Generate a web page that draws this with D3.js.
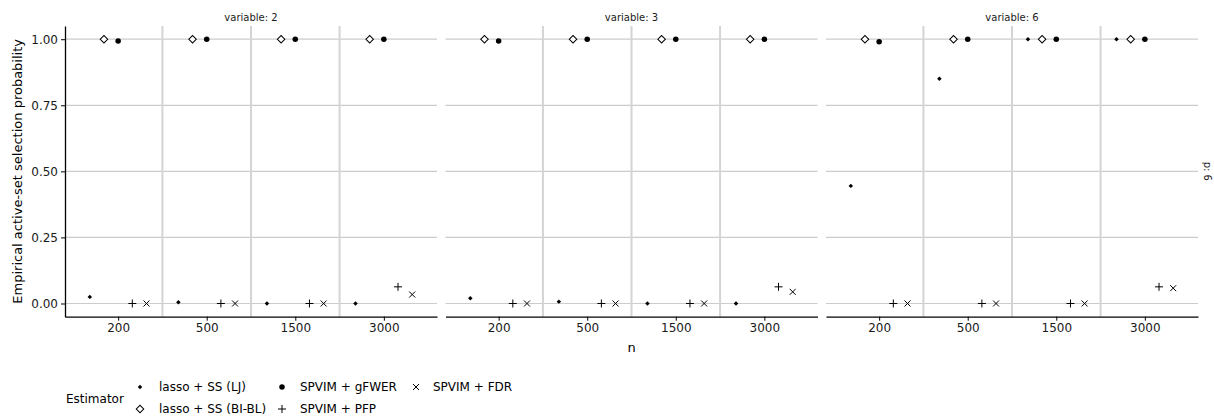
<!DOCTYPE html>
<html>
<head>
<meta charset="utf-8">
<script src="https://cdn.jsdelivr.net/npm/d3@7"></script>
<style>
  html, body { margin: 0; padding: 0; background: #fff; }
  svg { display: block; font-family: "DejaVu Sans", sans-serif; }
</style>
</head>
<body>
<svg id="chart" width="1214" height="416"></svg>
<script>
// Sample sizes (x categories), facet variables and estimators
const nLevels = ["200", "500", "1500", "3000"];
const variables = ["2", "3", "6"];
const estimators = ["lasso + SS (LJ)", "lasso + SS (BI-BL)", "SPVIM + gFWER", "SPVIM + PFP", "SPVIM + FDR"];
const yTicks = [0, 0.25, 0.5, 0.75, 1];

// Selection probabilities, one array per estimator, indexed by n
const var2_lassoLJ  = [0.025, 0.005, 0, 0];
const var2_lassoBI  = [1, 1, 1, 1];
const var2_gFWER    = [0.993, 1, 1, 1];
const var2_PFP      = [0, 0, 0, 0.063];
const var2_FDR      = [0, 0, 0, 0.034];

const var3_lassoLJ  = [0.02, 0.007, 0, 0];
const var3_lassoBI  = [1, 1, 1, 1];
const var3_gFWER    = [0.993, 1, 1, 1];
const var3_PFP      = [0, 0, 0, 0.063];
const var3_FDR      = [0, 0, 0, 0.044];

const var6_lassoLJ  = [0.445, 0.85, 1, 1];
const var6_lassoBI  = [1, 1, 1, 1];
const var6_gFWER    = [0.99, 1, 1, 1];
const var6_PFP      = [0, 0, 0, 0.063];
const var6_FDR      = [0, 0, 0, 0.058];

const seriesByVariable = {
  "2": [var2_lassoLJ, var2_lassoBI, var2_gFWER, var2_PFP, var2_FDR],
  "3": [var3_lassoLJ, var3_lassoBI, var3_gFWER, var3_PFP, var3_FDR],
  "6": [var6_lassoLJ, var6_lassoBI, var6_gFWER, var6_PFP, var6_FDR]
};

// Long-format rows
const rows = [];
variables.forEach(v => {
  seriesByVariable[v].forEach((vals, ei) => {
    vals.forEach((p, ni) => rows.push({ variable: v, estimator: estimators[ei], n: nLevels[ni], p }));
  });
});

const svg = d3.select("#chart");
const panelTop = 26, panelBottom = 316.7;
const panelLeft = 65, panelRight = 1198, panelGap = 8.5;
const panelW = (panelRight - panelLeft - panelGap * (variables.length - 1)) / variables.length;

const y = d3.scaleLinear().domain([-0.05, 1.05]).range([panelBottom, panelTop]);

// Marker shapes
const shapes = {
  "lasso + SS (LJ)":    { d: d3.symbol(d3.symbolSquare, 10)(), rot: 45, fill: "#000", stroke: "none", sw: 0 },
  "lasso + SS (BI-BL)": { d: d3.symbol(d3.symbolSquare, 28)(), rot: 45, fill: "#fff", stroke: "#000", sw: 1 },
  "SPVIM + gFWER":      { d: d3.symbol(d3.symbolCircle, 24)(), rot: 0, fill: "#000", stroke: "none", sw: 0 },
  "SPVIM + PFP":        { d: "M-4,0H4M0,-4V4", rot: 0, fill: "none", stroke: "#000", sw: 1 },
  "SPVIM + FDR":        { d: "M-3,-3L3,3M-3,3L3,-3", rot: 0, fill: "none", stroke: "#000", sw: 1 }
};

function drawMarker(g, est, cx, cy) {
  const s = shapes[est];
  g.append("path")
    .attr("d", s.d)
    .attr("transform", `translate(${cx},${cy}) rotate(${s.rot})`)
    .attr("fill", s.fill)
    .attr("stroke", s.stroke)
    .attr("stroke-width", s.sw);
}

variables.forEach((v, pi) => {
  const x0 = panelLeft + pi * (panelW + panelGap);
  const x = d3.scalePoint().domain(nLevels).range([x0, x0 + panelW]).padding(0.6);
  const step = x.step();
  const dodge = d3.scaleBand().domain(estimators).range([-0.4 * step, 0.4 * step]);
  const g = svg.append("g");

  // horizontal grid
  g.selectAll("line.hgrid").data(yTicks).join("line")
    .attr("x1", x0).attr("x2", x0 + panelW)
    .attr("y1", d => y(d)).attr("y2", d => y(d))
    .attr("stroke", "#cccccc").attr("stroke-width", 1.2);

  // separators between sample sizes
  g.selectAll("line.vsep").data(nLevels.slice(0, -1)).join("line")
    .attr("x1", d => x(d) + step / 2).attr("x2", d => x(d) + step / 2)
    .attr("y1", panelTop).attr("y2", panelBottom)
    .attr("stroke", "#d4d4d4").attr("stroke-width", 2);

  // strip label
  svg.append("text")
    .attr("x", x0 + panelW / 2).attr("y", 20.5)
    .attr("text-anchor", "middle").attr("font-size", 10).attr("fill", "#1a1a1a")
    .text(`variable: ${v}`);

  // points
  rows.filter(r => r.variable === v).forEach(r => {
    const cx = x(r.n) + dodge(r.estimator) + dodge.bandwidth() / 2;
    drawMarker(g, r.estimator, cx, y(r.p));
  });

  // bottom axis
  const xa = svg.append("g")
    .attr("transform", `translate(0,${panelBottom})`)
    .call(d3.axisBottom(x).tickSize(4).tickSizeOuter(0).tickPadding(3));
  xa.select(".domain").attr("stroke", "#000").attr("stroke-width", 1.3);
  xa.selectAll(".tick line").attr("stroke", "#000").attr("stroke-width", 1);
  xa.selectAll(".tick text").attr("font-size", 12).attr("font-family", "DejaVu Sans").attr("fill", "#1a1a1a");

  if (pi === 0) {
    const ya = svg.append("g")
      .attr("transform", `translate(${x0},0)`)
      .call(d3.axisLeft(y).tickValues(yTicks).tickFormat(d3.format(".2f")).tickSize(4).tickSizeOuter(0).tickPadding(3));
    ya.select(".domain").attr("stroke", "#000").attr("stroke-width", 1.3);
    ya.selectAll(".tick line").attr("stroke", "#000").attr("stroke-width", 1);
    ya.selectAll(".tick text").attr("font-size", 12).attr("font-family", "DejaVu Sans").attr("fill", "#1a1a1a");
  }
});

// right strip label
svg.append("text")
  .attr("transform", `translate(1204,${(panelTop + panelBottom) / 2}) rotate(90)`)
  .attr("text-anchor", "middle").attr("font-size", 10).attr("fill", "#1a1a1a")
  .text("p: 6");

// axis titles
svg.append("text")
  .attr("transform", `translate(21.5,${(panelTop + panelBottom) / 2}) rotate(-90)`)
  .attr("text-anchor", "middle").attr("font-size", 13).attr("fill", "#000")
  .text("Empirical active-set selection probability");

svg.append("text")
  .attr("x", (panelLeft + panelRight) / 2).attr("y", 352)
  .attr("text-anchor", "middle").attr("font-size", 13).attr("fill", "#000")
  .text("n");

// legend
const legend = svg.append("g");
legend.append("text")
  .attr("x", 66).attr("y", 402.5)
  .attr("font-size", 12).attr("fill", "#000")
  .text("Estimator");

const keyCols = [{ kx: 140, tx: 159 }, { kx: 282, tx: 300 }, { kx: 416, tx: 433 }];
const keyRows = [387, 409];
estimators.forEach((est, i) => {
  const col = keyCols[Math.floor(i / 2)];
  const ry = keyRows[i % 2];
  drawMarker(legend, est, col.kx, ry);
  legend.append("text")
    .attr("x", col.tx).attr("y", ry + 4.3)
    .attr("font-size", 12).attr("fill", "#000")
    .text(est);
});
</script>
</body>
</html>
